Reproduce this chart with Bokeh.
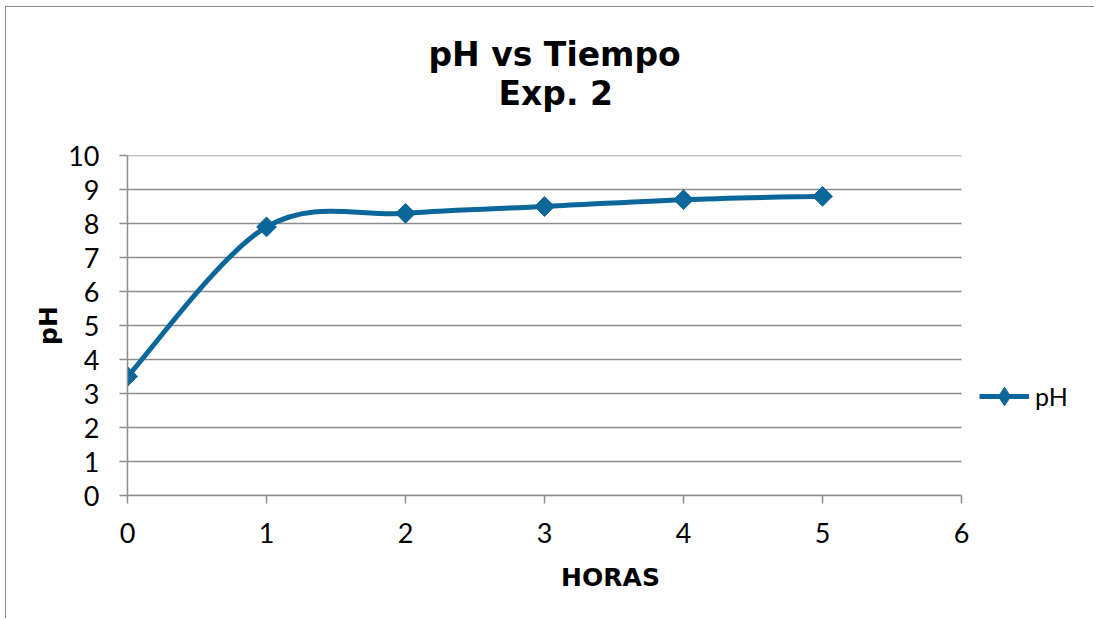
from bokeh.plotting import figure
from bokeh.models import (Range1d, FixedTicker, Legend, LegendItem, Title)
from bokeh.embed import file_html
from bokeh.resources import INLINE
import math

# ---- data ----
horas = [0, 1, 2, 3, 4, 5]
ph = [3.5, 7.9, 8.3, 8.5, 8.7, 8.8]
x_ticks = [0, 1, 2, 3, 4, 5, 6]
y_ticks = [0, 1, 2, 3, 4, 5, 6, 7, 8, 9, 10]
title_lines = ["pH vs Tiempo", "Exp. 2"]
x_label = "HORAS"
y_label = "pH"
series_name = "pH"

BLUE = "#0b6699"
GRID = "#8c8c8c"

# frame extends to the right of the x axis so that the legend can live inside it
W, H = 1089, 612
ML, MR, MT, MB = 121, 2, 148, 124
x_axis_px = 834   # pixel length of x axis 0..6
x_end = x_ticks[-1] * (W - ML - MR) / x_axis_px

p = figure(width=W, height=H, output_backend="svg", toolbar_location=None,
           x_range=Range1d(0, x_end), y_range=Range1d(y_ticks[0], y_ticks[-1]),
           min_border_left=ML, min_border_right=MR,
           min_border_top=MT, min_border_bottom=MB)
p.styles = {"border-left": "1.5px solid #8c8c8c", "border-top": "1.5px solid #8c8c8c",
            "margin-left": "5px", "margin-top": "6px"}
p.outline_line_color = None
p.background_fill_color = "white"
p.border_fill_color = "white"

# grid (drawn only across the axis extent)
p.xgrid.grid_line_color = None
p.ygrid.grid_line_color = None
p.segment(x0=[x_ticks[0]] * len(y_ticks), x1=[x_ticks[-1]] * len(y_ticks),
          y0=y_ticks, y1=y_ticks, line_color=GRID, line_width=1.5)

for ax, ticks in ((p.xaxis[0], x_ticks), (p.yaxis[0], y_ticks)):
    ax.ticker = FixedTicker(ticks=ticks)
    ax.bounds = (ticks[0], ticks[-1])
    ax.axis_line_color = GRID
    ax.axis_line_width = 1.5
    ax.major_tick_line_color = GRID
    ax.major_tick_line_width = 1.5
    ax.major_tick_out = 8
    ax.major_tick_in = 0
    ax.minor_tick_line_color = None
    ax.major_label_text_font = "Lato"
    ax.major_label_text_font_size = "27px"
    ax.major_label_text_color = "black"
    ax.axis_label_text_font = "DejaVu Sans"
    ax.axis_label_text_font_style = "bold"
    ax.axis_label_text_font_size = "25px"
    ax.axis_label_text_color = "black"

p.xaxis.axis_label = x_label
p.xaxis.major_label_standoff = 19
p.xaxis.axis_label_standoff = 17
p.yaxis.axis_label = y_label
p.yaxis.major_label_standoff = 20
p.yaxis.axis_label_standoff = 2

# smoothed line (Catmull-Rom -> cubic Bezier, computed from the data)
n = len(horas)
x0s, y0s, x1s, y1s, cx0, cy0, cx1, cy1 = [], [], [], [], [], [], [], []
for i in range(n - 1):
    pm = max(i - 1, 0)
    pp = min(i + 2, n - 1)
    x0s.append(horas[i]); y0s.append(ph[i])
    x1s.append(horas[i + 1]); y1s.append(ph[i + 1])
    cx0.append(horas[i] + (horas[i + 1] - horas[pm]) / 6)
    cy0.append(ph[i] + (ph[i + 1] - ph[pm]) / 6)
    cx1.append(horas[i + 1] - (horas[pp] - horas[i]) / 6)
    cy1.append(ph[i + 1] - (ph[pp] - ph[i]) / 6)

curve = p.bezier(x0=x0s, y0=y0s, x1=x1s, y1=y1s, cx0=cx0, cy0=cy0, cx1=cx1, cy1=cy1,
                 line_color=BLUE, line_width=5)
pts = p.scatter(horas, ph, marker="square", size=14, angle=math.pi / 4,
                fill_color=BLUE, line_color=BLUE)
# legend-only marker (no data -> nothing drawn in the plot)
leg_marker = p.scatter(x=[float("nan")], y=[float("nan")], marker="diamond",
                       fill_color=BLUE, line_color=BLUE)

legend = Legend(items=[LegendItem(label=series_name, renderers=[curve, leg_marker])],
                location=(852, 76), orientation="vertical",
                glyph_width=50, glyph_height=46, padding=0, margin=0, spacing=0,
                label_standoff=6, border_line_color=None, background_fill_alpha=0,
                label_text_font="Lato", label_text_font_size="25px",
                label_text_color="black")
p.add_layout(legend, "center")

# title: two centred lines stacked above the plot (first added = closest to plot)
for t, off, so in ((title_lines[1], 371, 86), (title_lines[0], 301, -90)):
    p.add_layout(Title(text=t, align="left", offset=off, standoff=so,
                       text_font="DejaVu Sans", text_font_style="bold",
                       text_font_size="33px", text_color="black"), "above")

open("out.html", "w").write(file_html(p, INLINE))
